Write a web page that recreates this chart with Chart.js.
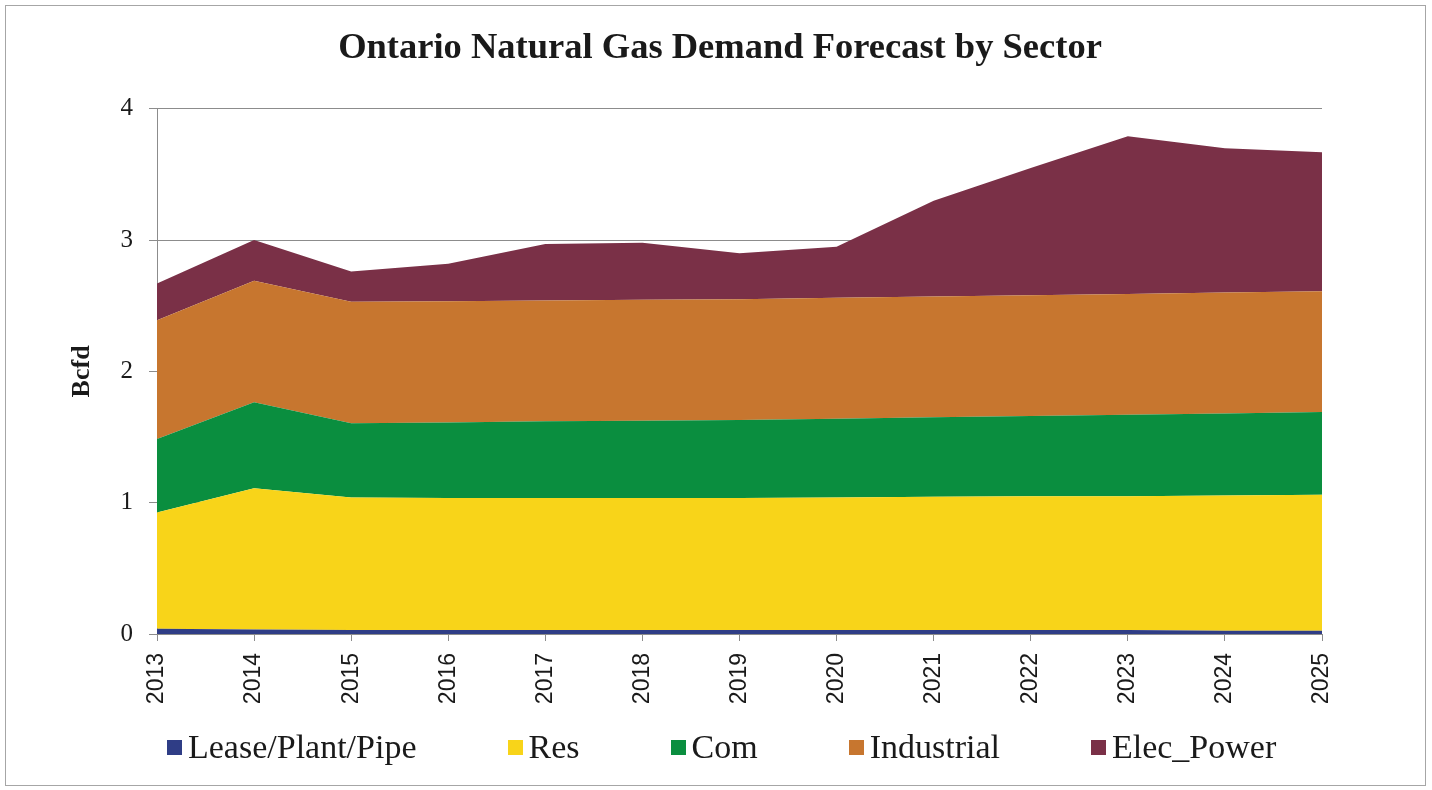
<!DOCTYPE html>
<html>
<head>
<meta charset="utf-8">
<title>Ontario Natural Gas Demand Forecast by Sector</title>
<script src="https://cdn.jsdelivr.net/npm/chart.js@4.4.1/dist/chart.umd.min.js"></script>
<style>
    html, body { margin: 0; padding: 0; background: #fff; }
    #wrap { position: relative; width: 1432px; height: 790px; }
    #frame { position: absolute; left: 5px; top: 5px; width: 1419px; height: 779px; border: 1px solid #a6a6a6; }
    #chart { position: absolute; left: 0; top: 0; }
    #legend { position: absolute; left: 0; top: 728px; width: 1432px; box-sizing: border-box; padding-left: 167px;
              display: flex; justify-content: flex-start; gap: 91px;
              font: 34px "Liberation Serif", serif; line-height: 38px; color: #1a1a1a; }
    #legend .item { display: flex; align-items: center; }
    #legend .swatch { width: 15px; height: 15px; margin-right: 6px; }
</style>
</head>
<body>
<div id="wrap">
    <div id="frame"></div>
    <canvas id="chart" width="1432" height="790"></canvas>
    <div id="legend"></div>
</div>
<script>
// years on the x axis
const years = ["2013", "2014", "2015", "2016", "2017", "2018", "2019", "2020", "2021", "2022", "2023", "2024", "2025"];

// demand by sector, Bcfd (stacked)
const leasePlantPipe = [0.04, 0.035, 0.03, 0.03, 0.03, 0.03, 0.03, 0.03, 0.03, 0.03, 0.03, 0.025, 0.025];
const residential = [0.885, 1.075, 1.01, 1.005, 1.005, 1.005, 1.005, 1.01, 1.015, 1.02, 1.02, 1.03, 1.035];
const commercial = [0.56, 0.655, 0.565, 0.575, 0.585, 0.59, 0.595, 0.6, 0.605, 0.61, 0.62, 0.625, 0.63];
const industrial = [0.905, 0.925, 0.925, 0.925, 0.92, 0.92, 0.92, 0.92, 0.92, 0.92, 0.92, 0.92, 0.92];
const elecPower = [0.28, 0.31, 0.23, 0.285, 0.43, 0.435, 0.35, 0.39, 0.73, 0.97, 1.2, 1.1, 1.06];

const seriesNames = ["Lease/Plant/Pipe", "Res", "Com", "Industrial", "Elec_Power"];
const seriesColors = ["#2f3d86", "#f8d419", "#0a8e3f", "#c7762f", "#7a3047"];
const yTicks = [0, 1, 2, 3, 4];

const serif = "'Liberation Serif', 'Times New Roman', serif";
const ink = "#1a1a1a";
const lineGray = "#8c8c8c";

const values = [leasePlantPipe, residential, commercial, industrial, elecPower];

const datasets = values.map(function (data, i) {
    return {
        label: seriesNames[i],
        data: data,
        backgroundColor: seriesColors[i],
        borderColor: seriesColors[i],
        borderWidth: 0,
        pointRadius: 0,
        tension: 0,
        fill: i === 0 ? "origin" : "-1",
    };
});

new Chart(document.getElementById("chart"), {
    type: "line",
    data: { labels: years, datasets: datasets },
    options: {
        responsive: false,
        animation: false,
        // left padding keeps the title centred on the page, the axis title is pulled back with a negative offset
        layout: { padding: { left: 118, right: 110, top: 0, bottom: 0 } },
        plugins: {
            legend: { display: false },
            tooltip: { enabled: false },
            title: {
                display: true,
                text: "Ontario Natural Gas Demand Forecast by Sector",
                color: ink,
                font: { family: serif, size: 36.5, weight: "bold", lineHeight: 1.2 },
                padding: { top: 27, bottom: 38 },
            },
        },
        scales: {
            x: {
                offset: false,
                grid: { drawOnChartArea: false, drawTicks: true, tickLength: 7, color: lineGray },
                border: { color: lineGray },
                ticks: {
                    autoSkip: false,
                    minRotation: 90,
                    maxRotation: 90,
                    padding: 12,
                    color: ink,
                    font: { family: "'Liberation Sans', Arial, sans-serif", size: 23 },
                },
                afterFit: function (scale) {
                    scale.height = 156;
                },
            },
            y: {
                stacked: true,
                min: yTicks[0],
                max: yTicks[yTicks.length - 1],
                afterBuildTicks: function (scale) {
                    scale.ticks = yTicks.map(function (v) { return { value: v }; });
                },
                grid: { color: lineGray, tickLength: 8 },
                border: { color: lineGray },
                ticks: {
                    padding: 16,
                    color: ink,
                    font: { family: serif, size: 25 },
                },
                title: {
                    display: true,
                    text: "Bcfd",
                    color: ink,
                    font: { family: serif, size: 26, weight: "bold", lineHeight: 1.2 },
                    padding: { top: -51.6, bottom: 0 },
                },
                afterFit: function (scale) {
                    scale.width = 39;
                },
            },
        },
    },
});

// legend row under the axis
const legend = document.getElementById("legend");
seriesNames.forEach(function (name, i) {
    const item = document.createElement("div");
    item.className = "item";
    const swatch = document.createElement("span");
    swatch.className = "swatch";
    swatch.style.background = seriesColors[i];
    const text = document.createElement("span");
    text.textContent = name;
    item.appendChild(swatch);
    item.appendChild(text);
    legend.appendChild(item);
});
</script>
</body>
</html>
